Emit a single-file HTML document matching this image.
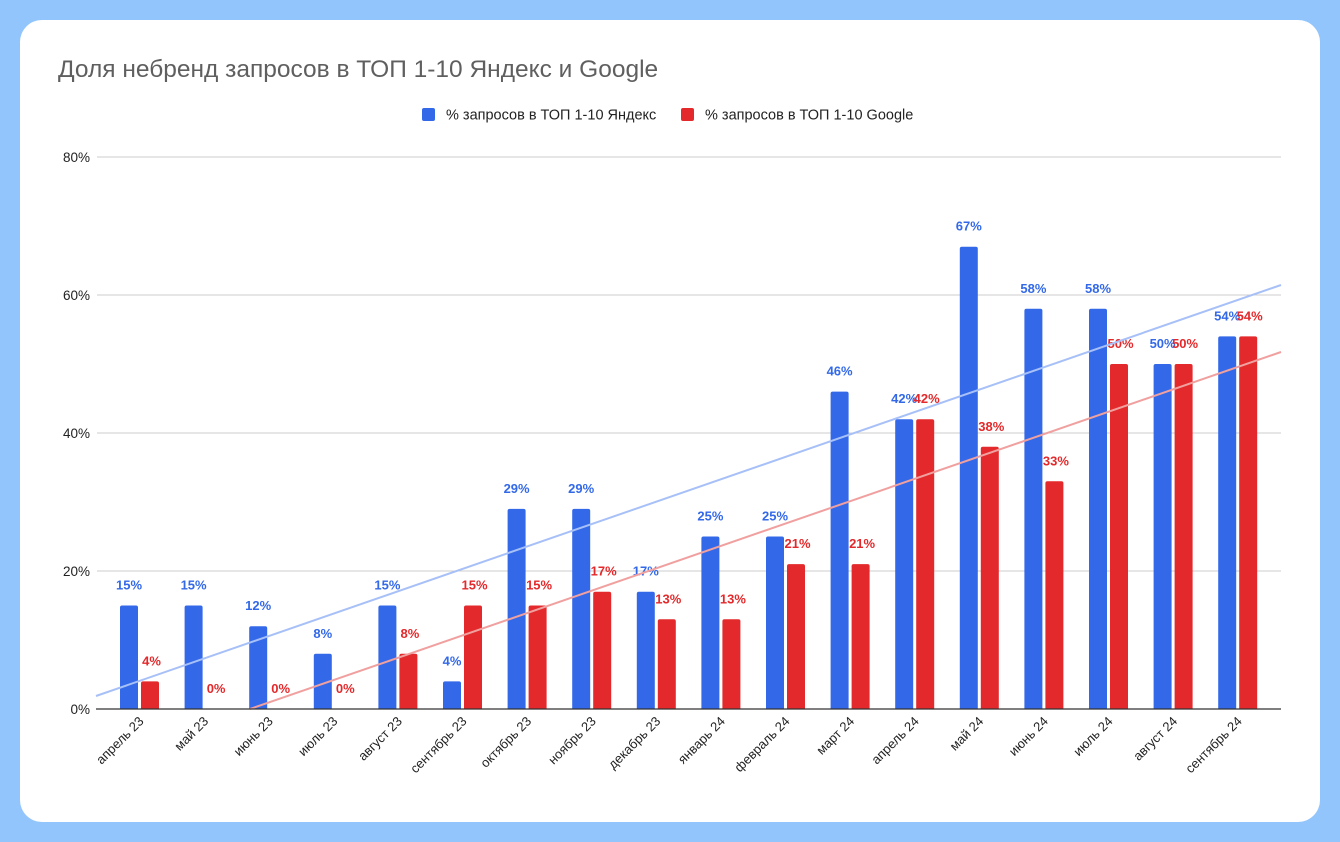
<!DOCTYPE html>
<html><head><meta charset="utf-8"><style>
html,body{margin:0;padding:0;background:#93c5fd;}
body{width:1340px;height:842px;position:relative;overflow:hidden;font-family:"Liberation Sans",Arial,sans-serif;}
.card{position:absolute;left:20px;top:20px;width:1300px;height:802px;background:#fff;border-radius:22px;}
svg{position:absolute;left:0;top:0;}
</style></head><body>
<div class="card"></div>
<svg id="s" width="1340" height="842" xmlns="http://www.w3.org/2000/svg" font-family="Liberation Sans, Arial, sans-serif">
<text x="58" y="77" font-size="24.5" fill="#5f5f5f">Доля небренд запросов в ТОП 1-10 Яндекс и Google</text>
<rect x="422" y="108" width="13" height="13" rx="2" fill="#3369e8"/>
<text x="446" y="119.5" font-size="14.5" fill="#222">% запросов в ТОП 1-10 Яндекс</text>
<rect x="681" y="108" width="13" height="13" rx="2" fill="#e3292b"/>
<text x="705" y="119.5" font-size="14.5" fill="#222">% запросов в ТОП 1-10 Google</text>
<g id="g"></g>
</svg>
<script>
var g=document.getElementById('g'),h='';
var b=[15,15,12,8,15,4,29,29,17,25,25,46,42,67,58,58,50,54];
var r=[4,0,0,0,8,15,15,17,13,13,21,21,42,38,33,50,50,54];
var L=['апрель 23','май 23','июнь 23','июль 23','август 23','сентябрь 23','октябрь 23','ноябрь 23','декабрь 23','январь 24','февраль 24','март 24','апрель 24','май 24','июнь 24','июль 24','август 24','сентябрь 24'];
[80,60,40,20].forEach(function(v,i){var y=157+i*138;h+='<line x1="97" x2="1281" y1="'+y+'" y2="'+y+'" stroke="#ccc" stroke-width="1"/><text x="90" y="'+(y+5)+'" font-size="13.5" text-anchor="end" fill="#222">'+v+'%</text>';});
h+='<text x="90" y="714" font-size="13.5" text-anchor="end" fill="#222">0%</text>';
for(var i=0;i<18;i++){var c=139.5+64.6*i;
var yb=709-b[i]*6.9,yr=709-r[i]*6.9;
h+='<path d="M'+(c-19.5)+' 709V'+(yb+2)+'q0-2 2-2h14q2 0 2 2V709z" fill="#3369e8"/>';
if(r[i]>0)h+='<path d="M'+(c+1.5)+' 709V'+(yr+2)+'q0-2 2-2h14q2 0 2 2V709z" fill="#e3292b"/>';
h+='<text x="'+(c-10.5)+'" y="'+(yb-16)+'" font-size="13" font-weight="bold" text-anchor="middle" fill="#3369e8">'+b[i]+'%</text>';
h+='<text x="'+(c+12)+'" y="'+(yr-16)+'" font-size="13" font-weight="bold" text-anchor="middle" fill="#e3292b">'+r[i]+'%</text>';
h+='<text transform="translate('+(c+5)+',722) rotate(-45)" font-size="13" text-anchor="end" fill="#222">'+L[i]+'</text>';}
h+='<line x1="96" y1="696" x2="1281" y2="285" stroke="#a7c0f7" stroke-width="2"/>';
h+='<line x1="250" y1="709" x2="1281" y2="352" stroke="#f0a09f" stroke-width="2"/>';
h+='<line x1="96" x2="1281" y1="709" y2="709" stroke="#333" stroke-width="1.3"/>';
g.innerHTML=h;
</script>
</body></html>
